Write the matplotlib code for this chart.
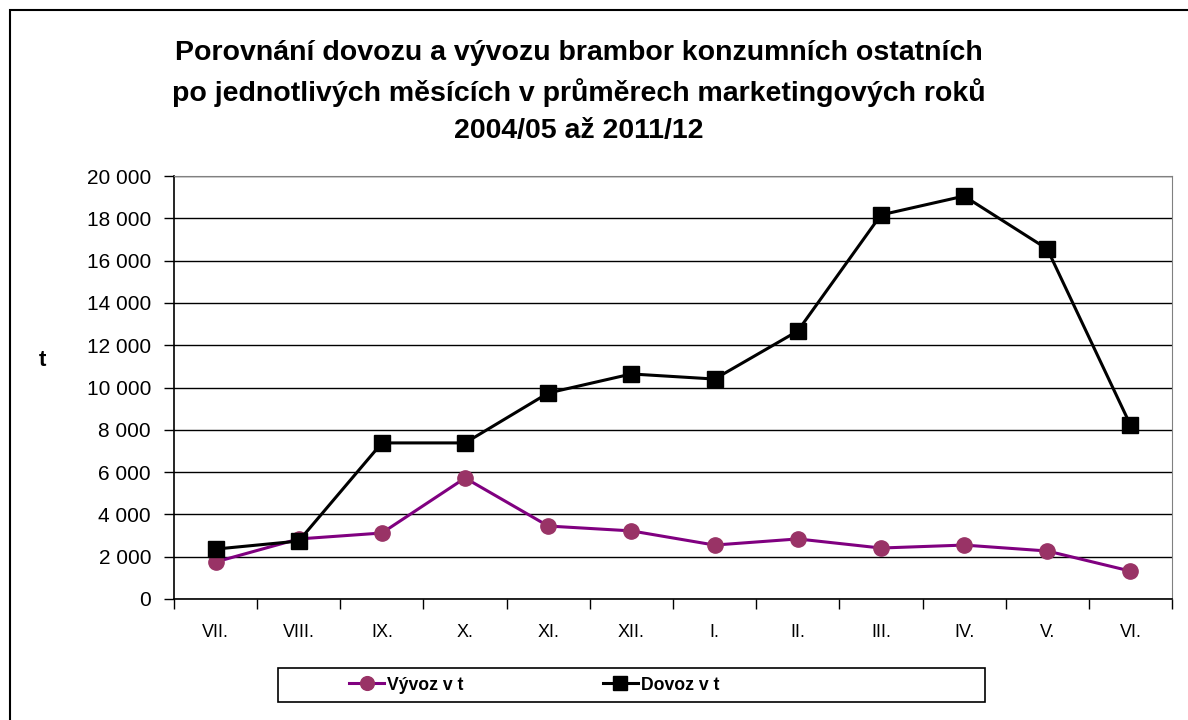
import numpy as np
import matplotlib.pyplot as plt
from matplotlib.patches import Rectangle

# data (tonnes)
months = ["VII.", "VIII.", "IX.", "X.", "XI.", "XII.", "I.", "II.", "III.", "IV.", "V.", "VI."]
vyvoz = [1750, 2840, 3120, 5720, 3450, 3220, 2550, 2840, 2410, 2550, 2270, 1320]
dovoz = [2360, 2740, 7380, 7380, 9740, 10640, 10400, 12670, 18160, 19050, 16550, 8230]

plt.rcParams['font.family'] = ['Liberation Sans', 'DejaVu Sans']

W, H = 1188, 720
fig = plt.figure(figsize=(W / 100, H / 100), dpi=100)

# outer chart frame
fig.patches.append(Rectangle((10 / W, -0.05), 1.1, 1 - 10 / H + 0.05,
                             transform=fig.transFigure, fill=False,
                             edgecolor='black', linewidth=1.5))

ax = fig.add_axes([174 / W, 1 - 599 / H, (1172 - 174) / W, (599 - 176) / H])

x = np.arange(len(months))
ax.plot(x, vyvoz, color='#800080', linewidth=2.2, marker='o', markersize=11,
        markerfacecolor='#993366', markeredgecolor='#993366', label='Vývoz v t', zorder=3)
ax.plot(x, dovoz, color='black', linewidth=2.2, marker='s', markersize=11,
        markerfacecolor='black', markeredgecolor='black', label='Dovoz v t', zorder=4)

ax.set_xlim(-0.5, len(months) - 0.5)
ax.set_ylim(0, 20000)
ax.set_yticks(np.arange(0, 20001, 2000))
ax.set_yticklabels([f"{v:,}".replace(",", " ") for v in range(0, 20001, 2000)])
ax.yaxis.grid(True, color='black', linewidth=1)
ax.set_axisbelow(True)

# category ticks between months, labels in the middle
ax.set_xticks(np.arange(-0.5, len(months), 1))
ax.set_xticklabels([])
ax.set_xticks(x, minor=True)
ax.set_xticklabels(months, minor=True)
ax.tick_params(axis='x', which='major', direction='out', length=7, width=1)
ax.tick_params(axis='x', which='minor', length=0, pad=18, labelsize=13)
ax.tick_params(axis='y', direction='out', length=7, width=1, labelsize=15, pad=9.5)

for side in ['top', 'right']:
    ax.spines[side].set_color('#808080')
for side in ['left', 'bottom']:
    ax.spines[side].set_color('black')
    ax.spines[side].set_linewidth(1.2)

fig.text(42 / W, 1 - 360 / H, "t", fontsize=16, fontweight='bold', ha='center', va='center')

fig.text(579 / W, 1 - 92 / H,
         "Porovnání dovozu a vývozu brambor konzumních ostatních\n"
         "po jednotlivých měsících v průměrech marketingových roků\n"
         "2004/05 až 2011/12",
         fontsize=20.5, fontweight='bold', ha='center', va='center', linespacing=1.55)

# legend box
fig.patches.append(Rectangle((278 / W, 1 - 702 / H), (985 - 278) / W, 34 / H,
                             transform=fig.transFigure, fill=False,
                             edgecolor='black', linewidth=1.2))
fig.legend(loc='center', bbox_to_anchor=(534 / W, 1 - 685 / H), ncol=2, frameon=False,
           prop={'weight': 'bold', 'size': 12.7}, handlelength=2.0, handletextpad=0.15,
           columnspacing=7.9, markerscale=0.9)

fig.savefig("out.png", dpi=100)
